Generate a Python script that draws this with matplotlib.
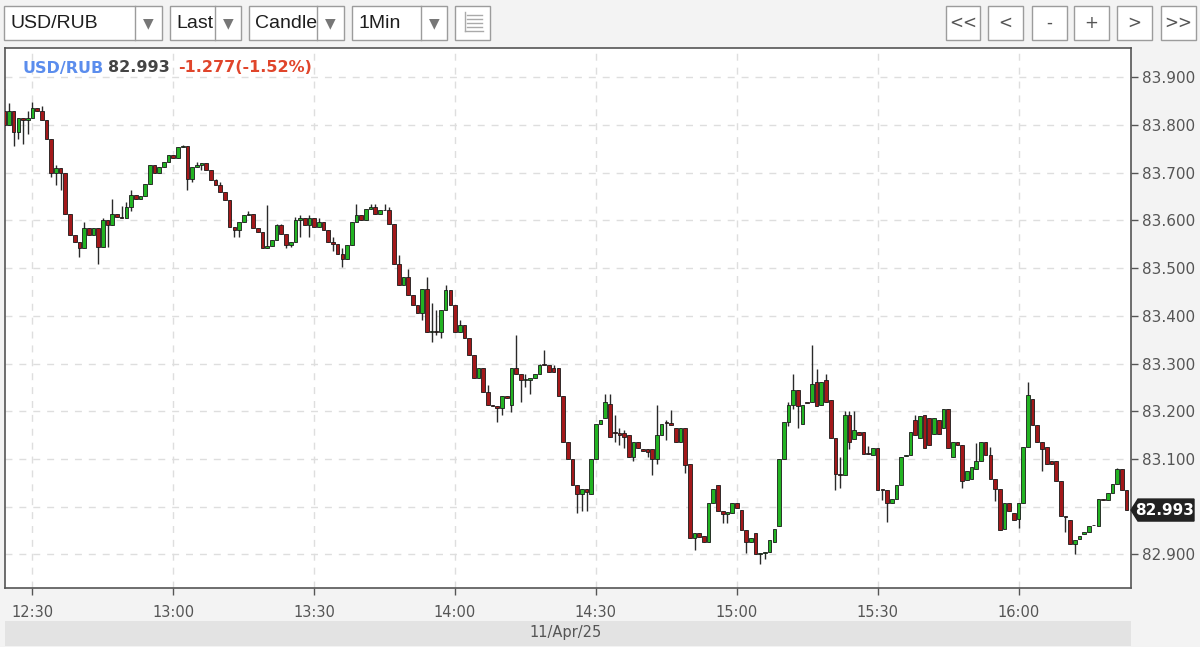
import matplotlib
matplotlib.use("Agg")
import matplotlib.pyplot as plt
from matplotlib.patches import Rectangle, Polygon
from matplotlib.lines import Line2D
import numpy as np

# ---------------- data ----------------
symbol = "USD/RUB"
last_price = 82.993
change_text = "-1.277(-1.52%)"
date_label = "11/Apr/25"
start_time = "12:24"          # first 1-minute candle
time_labels = ["12:30", "13:00", "13:30", "14:00", "14:30", "15:00", "15:30", "16:00"]
price_ticks = [82.9, 83.0, 83.1, 83.2, 83.3, 83.4, 83.5, 83.6, 83.7, 83.8, 83.9]

opens = [
    83.830, 83.800, 83.830, 83.785, 83.815, 83.810, 83.815, 83.835, 83.830, 83.810,
    83.770, 83.700, 83.710, 83.700, 83.614, 83.569, 83.555, 83.541, 83.583, 83.569,
    83.583, 83.544, 83.600, 83.590, 83.614, 83.607, 83.604, 83.628, 83.653, 83.645,
    83.650, 83.677, 83.715, 83.700, 83.712, 83.722, 83.736, 83.730, 83.754, 83.756,
    83.687, 83.712, 83.715, 83.720, 83.705, 83.684, 83.673, 83.659, 83.642, 83.586,
    83.579, 83.597, 83.611, 83.614, 83.583, 83.576, 83.541, 83.547, 83.558, 83.590,
    83.572, 83.548, 83.555, 83.600, 83.604, 83.590, 83.604, 83.586, 83.597, 83.579,
    83.555, 83.551, 83.530, 83.518, 83.548, 83.597, 83.611, 83.600, 83.624, 83.628,
    83.614, 83.621, 83.621, 83.593, 83.509, 83.464, 83.482, 83.443, 83.422, 83.405,
    83.457, 83.367, 83.368, 83.367, 83.412, 83.454, 83.422, 83.367, 83.381, 83.353,
    83.318, 83.269, 83.290, 83.241, 83.213, 83.210, 83.206, 83.231, 83.213, 83.290,
    83.279, 83.265, 83.265, 83.270, 83.279, 83.297, 83.297, 83.290, 83.290, 83.231,
    83.136, 83.099, 83.046, 83.026, 83.038, 83.026, 83.101, 83.174, 83.185, 83.216,
    83.157, 83.155, 83.155, 83.150, 83.105, 83.136, 83.120, 83.120, 83.120, 83.101,
    83.151, 83.176, 83.176, 83.164, 83.136, 83.164, 83.090, 82.934, 82.944, 82.938,
    82.927, 83.007, 83.046, 82.990, 82.985, 82.986, 83.007, 82.994, 82.952, 82.927,
    82.944, 82.900, 82.903, 82.906, 82.927, 82.959, 83.101, 83.178, 83.214, 83.245,
    83.174, 83.218, 83.220, 83.262, 83.214, 83.266, 83.224, 83.143, 83.069, 83.067,
    83.193, 83.141, 83.157, 83.157, 83.111, 83.108, 83.122, 83.036, 83.036, 83.007,
    83.017, 83.046, 83.107, 83.109, 83.182, 83.143, 83.193, 83.185, 83.153, 83.182,
    83.164, 83.205, 83.105, 83.136, 83.130, 83.057, 83.059, 83.080, 83.095, 83.136,
    83.109, 83.059, 83.038, 82.954, 83.007, 82.986, 82.975, 83.007, 83.126, 83.226,
    83.172, 83.136, 83.126, 83.095, 83.095, 83.053, 82.978, 82.973, 82.921, 82.932,
    82.942, 82.948, 82.961, 82.959, 83.017, 83.015, 83.028, 83.048, 83.078, 83.036,
]
closes = [
    83.800, 83.830, 83.785, 83.815, 83.810, 83.815, 83.835, 83.830, 83.810, 83.770,
    83.700, 83.710, 83.700, 83.614, 83.569, 83.555, 83.541, 83.583, 83.569, 83.583,
    83.544, 83.600, 83.590, 83.614, 83.607, 83.604, 83.628, 83.653, 83.645, 83.650,
    83.677, 83.715, 83.700, 83.712, 83.722, 83.736, 83.730, 83.754, 83.756, 83.687,
    83.712, 83.715, 83.720, 83.705, 83.684, 83.673, 83.659, 83.642, 83.586, 83.579,
    83.597, 83.611, 83.614, 83.583, 83.576, 83.541, 83.547, 83.558, 83.590, 83.572,
    83.548, 83.555, 83.600, 83.604, 83.590, 83.604, 83.586, 83.597, 83.579, 83.555,
    83.551, 83.530, 83.518, 83.548, 83.597, 83.611, 83.600, 83.624, 83.628, 83.614,
    83.621, 83.621, 83.593, 83.509, 83.464, 83.482, 83.443, 83.422, 83.405, 83.457,
    83.367, 83.368, 83.367, 83.412, 83.454, 83.422, 83.367, 83.381, 83.353, 83.318,
    83.269, 83.290, 83.241, 83.213, 83.210, 83.206, 83.231, 83.228, 83.290, 83.279,
    83.265, 83.268, 83.270, 83.279, 83.297, 83.297, 83.283, 83.283, 83.231, 83.136,
    83.099, 83.046, 83.026, 83.038, 83.030, 83.101, 83.174, 83.182, 83.220, 83.147,
    83.155, 83.150, 83.147, 83.105, 83.136, 83.122, 83.117, 83.115, 83.101, 83.151,
    83.174, 83.176, 83.171, 83.136, 83.164, 83.088, 82.934, 82.944, 82.937, 82.927,
    83.007, 83.038, 82.990, 82.985, 82.988, 83.007, 82.997, 82.952, 82.927, 82.935,
    82.900, 82.903, 82.906, 82.931, 82.954, 83.101, 83.178, 83.214, 83.245, 83.212,
    83.214, 83.218, 83.258, 83.210, 83.262, 83.220, 83.143, 83.069, 83.067, 83.193,
    83.136, 83.161, 83.150, 83.111, 83.111, 83.122, 83.036, 83.036, 83.007, 83.017,
    83.046, 83.105, 83.109, 83.157, 83.151, 83.189, 83.122, 83.130, 83.185, 83.153,
    83.205, 83.122, 83.136, 83.130, 83.053, 83.074, 83.084, 83.095, 83.136, 83.109,
    83.059, 83.038, 82.952, 83.007, 82.990, 82.973, 83.007, 83.126, 83.235, 83.172,
    83.136, 83.120, 83.090, 83.090, 83.053, 82.980, 82.978, 82.921, 82.930, 82.938,
    82.948, 82.959, 82.961, 83.017, 83.015, 83.028, 83.048, 83.078, 83.036, 82.993,
]
wick_high = {0: 83.876, 1: 83.846, 5: 83.830, 6: 83.848, 8: 83.840, 11: 83.715, 17: 83.597,
             21: 83.604, 23: 83.645, 25: 83.630, 26: 83.638, 27: 83.663, 38: 83.758, 41: 83.722,
             45: 83.687, 46: 83.680, 52: 83.620, 56: 83.632, 58: 83.593, 59: 83.593, 62: 83.607,
             63: 83.611, 65: 83.611, 67: 83.604, 70: 83.565, 72: 83.541, 75: 83.635, 78: 83.635,
             79: 83.635, 81: 83.635, 82: 83.628, 84: 83.527, 86: 83.499, 90: 83.482, 91: 83.426,
             92: 83.412, 94: 83.464, 97: 83.391, 103: 83.255, 109: 83.360, 111: 83.279,
             114: 83.300, 115: 83.328, 117: 83.297, 128: 83.237, 129: 83.237, 130: 83.193,
             131: 83.164, 132: 83.160, 139: 83.214, 141: 83.182, 142: 83.203, 167: 83.220,
             168: 83.279, 172: 83.339, 173: 83.289, 175: 83.279, 178: 83.104, 179: 83.200,
             180: 83.200, 181: 83.200, 184: 83.128, 194: 83.193, 207: 83.133, 210: 83.126,
             218: 83.262, 237: 83.082}
wick_low = {0: 83.790, 2: 83.755, 3: 83.770, 4: 83.760, 5: 83.780, 10: 83.690, 11: 83.675,
            12: 83.663, 16: 83.523, 20: 83.509, 22: 83.544, 27: 83.620, 39: 83.663, 40: 83.680,
            42: 83.705, 49: 83.565, 50: 83.565, 60: 83.541, 61: 83.544, 63: 83.565, 65: 83.565,
            70: 83.535, 72: 83.502, 89: 83.391, 91: 83.346, 92: 83.360, 93: 83.353, 105: 83.178,
            106: 83.192, 108: 83.199, 110: 83.220, 111: 83.251, 112: 83.237, 122: 82.986,
            123: 82.990, 124: 82.990, 130: 83.136, 131: 83.130, 132: 83.122, 134: 83.095,
            137: 83.105, 138: 83.067, 139: 83.090, 141: 83.140, 145: 83.070, 147: 82.910,
            153: 82.965, 154: 82.965, 158: 82.904, 161: 82.881, 162: 82.890, 167: 83.170,
            168: 83.205, 169: 83.164, 177: 83.036, 178: 83.040, 180: 83.120, 187: 83.015,
            188: 82.969, 204: 83.040, 211: 83.011, 216: 82.955, 221: 83.074, 226: 82.948,
            228: 82.900}

# ---------------- figure ----------------
W, H = 1200, 647
fig = plt.figure(figsize=(W / 100, H / 100), dpi=100)
fig.patch.set_facecolor("#f3f3f3")


def fx(x):
    return x / W


def fy(y):
    return 1 - y / H


PL, PR, PT, PB = 5, 1131, 48, 588
ax = fig.add_axes([fx(PL), fy(PB), fx(PR) - fx(PL), fy(PT) - fy(PB)])
ax.set_facecolor("white")

o = np.array(opens)
c = np.array(closes)
n = len(o)
idx = np.arange(n)
hi = np.maximum(o, c)
lo = np.minimum(o, c)
for k, v in wick_high.items():
    hi[k] = max(hi[k], v)
for k, v in wick_low.items():
    lo[k] = min(lo[k], v)

up = c > o
GREEN = "#22b322"
RED = "#a3181a"
colors = np.where(up, GREEN, RED)
body_bottom = np.minimum(o, c)
body_h = np.maximum(np.abs(c - o), 0.0015)

ax.vlines(idx, lo, hi, color="#2a2a2a", linewidth=1.0, zorder=2)
ax.bar(idx, body_h, bottom=body_bottom, width=0.78, color=colors,
       edgecolor="#1a1a1a", linewidth=0.6, zorder=3)

ax.set_xlim(0.16, n - 0.05)
ax.set_ylim(82.8297, 83.961)

# x ticks from time labels
sh, sm = map(int, start_time.split(":"))
tick_pos = []
for t in time_labels:
    h_, m_ = map(int, t.split(":"))
    tick_pos.append((h_ * 60 + m_) - (sh * 60 + sm))
ax.set_xticks(tick_pos)
ax.set_xticklabels(time_labels)

ax.yaxis.tick_right()
ax.set_yticks(price_ticks)
ax.set_yticklabels(["" if abs(p - 83.0) < 1e-9 else f"{p:.3f}" for p in price_ticks])

ax.tick_params(axis="both", direction="out", length=5, width=1, color="#555555",
               labelcolor="#555555", labelsize=11)
ax.tick_params(axis="y", pad=3)
ax.tick_params(axis="x", pad=7, labelsize=10.5)

ax.grid(True, color="#dedede", linestyle=(0, (5, 5)), linewidth=1)
ax.set_axisbelow(True)
for s in ax.spines.values():
    s.set_color("#555555")
    s.set_linewidth(1.2)

# legend text in plot
fig.text(fx(22), fy(68), symbol, color="#5b8ded", fontsize=11.5, fontweight="bold",
         va="center", ha="left")
fig.text(fx(108), fy(68), f"{last_price:.3f}", color="#444444", fontsize=11.5,
         fontweight="bold", va="center", ha="left")
fig.text(fx(178), fy(68), change_text, color="#e0452b", fontsize=11.5, fontweight="bold",
         va="center", ha="left")

# last price marker on right axis
ly = ax.transData.transform((0, last_price))[1]
ly_px = H - ly
poly = Polygon([(fx(1131), fy(ly_px)), (fx(1138), fy(ly_px - 11)), (fx(1194), fy(ly_px - 11)),
                (fx(1194), fy(ly_px + 11)), (fx(1138), fy(ly_px + 11))],
               closed=True, transform=fig.transFigure, facecolor="#222222",
               edgecolor="#222222", zorder=5)
fig.patches.append(poly)
fig.text(fx(1165), fy(ly_px), f"{last_price:.3f}", color="white", fontsize=11,
         fontweight="bold", va="center", ha="center", zorder=6)

# bottom date band
fig.patches.append(Rectangle((fx(5), fy(646)), fx(1131) - fx(5), (646 - 621) / H,
                             transform=fig.transFigure, facecolor="#e3e3e3",
                             edgecolor="none", zorder=0))
fig.text(fx(566), fy(633), date_label, color="#555555", fontsize=10.5,
         va="center", ha="center")


# toolbar
def box(x0, y0, x1, y1):
    fig.patches.append(Rectangle((fx(x0), fy(y1)), fx(x1) - fx(x0), (y1 - y0) / H,
                                 transform=fig.transFigure, facecolor="white",
                                 edgecolor="#9c9c9c", linewidth=1.0, zorder=1))


def vline(x, y0, y1, col="#9c9c9c"):
    fig.lines.append(Line2D([fx(x), fx(x)], [fy(y0), fy(y1)], transform=fig.transFigure,
                            color=col, linewidth=1.0, zorder=2))


dropdowns = [("USD/RUB", 4, 162, 135), ("Last", 170, 241, 215),
             ("Candle", 249, 344, 317), ("1Min", 352, 447, 421)]
for label, x0, x1, xd in dropdowns:
    box(x0, 6, x1, 40)
    vline(xd, 6, 40)
    fig.text(fx(x0 + 6), fy(23.5), label, color="#1e1e1e", fontsize=14,
             family="Liberation Sans", va="center", ha="left")
    fig.text(fx((xd + x1) / 2), fy(23), "\u25bc", color="#777777", fontsize=10,
             va="center", ha="center")

box(455, 6, 490, 40)
for yy in (15, 19, 23, 27):
    fig.lines.append(Line2D([fx(467), fx(482)], [fy(yy), fy(yy)], transform=fig.transFigure,
                            color="#aaaaaa", linewidth=1.0, zorder=2))
vline(465, 12, 31, "#aaaaaa")
fig.lines.append(Line2D([fx(465), fx(483)], [fy(31), fy(31)], transform=fig.transFigure,
                        color="#aaaaaa", linewidth=1.0, zorder=2))

buttons = [("<<", 946, 980), ("<", 988, 1023), ("-", 1032, 1067),
           ("+", 1074, 1109), (">", 1117, 1152), (">>", 1161, 1196)]
for label, x0, x1 in buttons:
    box(x0, 6, x1, 40)
    fig.text(fx((x0 + x1) / 2), fy(23), label, color="#555555", fontsize=12,
             va="center", ha="center")

fig.savefig("out.png", dpi=100, facecolor=fig.get_facecolor())
